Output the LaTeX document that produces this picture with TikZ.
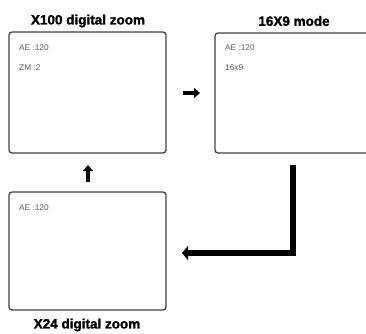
\documentclass[tikz,border=0pt]{standalone}
\usepackage{fontspec}
\setmainfont{Liberation Sans}
\newfontfamily\heavyfont[FakeBold=1.6]{Liberation Sans Bold}
\usetikzlibrary{arrows.meta,calc}
\begin{document}
\begin{tikzpicture}[x=1pt,y=-1pt,
  screen/.style={draw=black!75,line width=1.3pt,rounded corners=3pt,fill=white},
  title/.style={font=\heavyfont\fontsize{13.5}{14}\selectfont,inner sep=0pt},
  info/.style={font=\fontsize{8.3}{9}\selectfont,text=black!65,inner sep=0pt,anchor=west},
  blockarrow/.style={line width=4pt,-{Triangle[width=10pt,length=6pt]}},
  bigarrow/.style={line width=6pt,-{Triangle[width=14pt,length=6pt]}}]
\useasboundingbox (0,0) rectangle (366,333);
\clip (0,0) rectangle (366,333);
% screens
\draw[screen] (9,32) rectangle (166,153);
\draw[screen] (215,33) rectangle (390,153);
\draw[screen] (9,192) rectangle (166,310);
\coordinate (b1e) at (166,93);
\coordinate (b2w) at (215,93);
\coordinate (b1s) at (88,153);
\coordinate (b3n) at (88,192);
\coordinate (b2s) at (293,153);
\coordinate (b3e) at (166,253);
% titles
\node[title] (t1) at (88,21) {X100 digital zoom};
\node[title] (t2) at (294,21) {16X9 mode};
\node[title] (t3) at (87,325) {X24 digital zoom};
% info texts
\node[info] (i1a) at (19,48) {AE :120};
\node[info] (i1b) at (19,68) {ZM :2};
\node[info] (i2a) at (225,48) {AE :120};
\node[info] (i2b) at (225,68) {16x9};
\node[info] (i3a) at (19,208) {AE :120};
% arrows
\draw[blockarrow] ($(b1e)+(17,0)$) -- ($(b2w)+(-15,0)$);
\draw[blockarrow] ($(b3n)+(0,-10)$) -- ($(b1s)+(0,12)$);
\draw[bigarrow] ($(b2s)+(0,12)$) |- ($(b3e)+(16,0)$);
\end{tikzpicture}
\end{document}
